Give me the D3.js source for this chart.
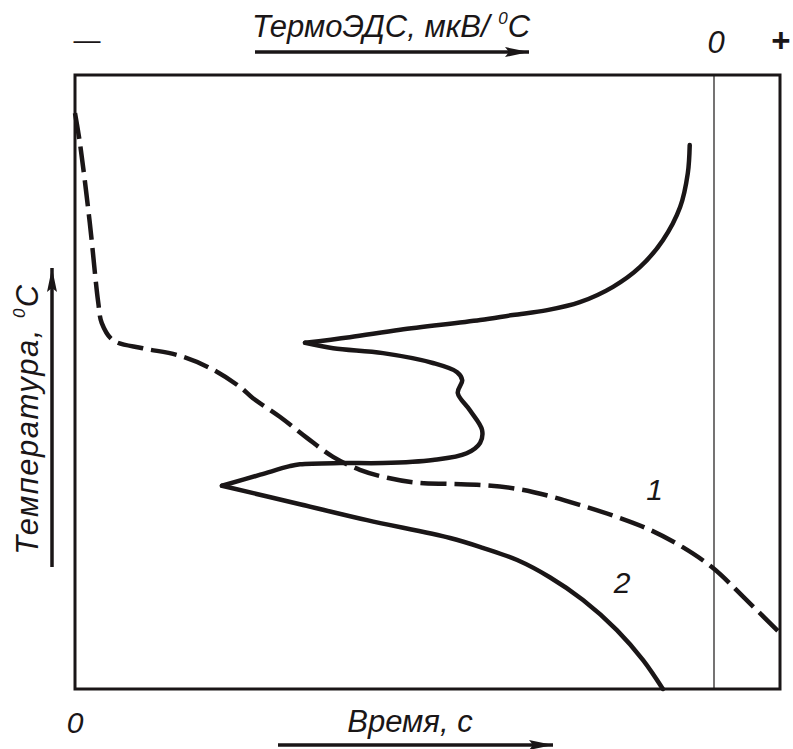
<!DOCTYPE html>
<html><head><meta charset="utf-8">
<script src="https://cdn.jsdelivr.net/npm/d3@7"></script>
<style>body{margin:0;background:#fff}text{font-family:"Liberation Sans",Arial,sans-serif;font-style:italic;fill:#1a1617}</style>
</head><body>
<svg id="c" width="793" height="749"></svg>
<script>
// Curve 1: cooling curve (time %, temperature %)
const curve1Time = [0,0.7,2.1,3.3,3.8,5.4,9.6,14.5,19.1,23.4,25.2,29.1,32.9,36.6,40.4,44.3,48.5,53.2,57.9,62.7,67.4,72.1,76.9,81.6,86.2,90.5,94.8,100];
const curve1Temp = [93.8,88.9,75.9,62.9,59.6,56.8,55.5,54.4,52.3,49.2,47.4,44.3,40.9,37.8,35.7,34.4,33.6,33.4,33.2,32.6,31.4,29.8,28.0,25.9,23.1,19.7,15.0,9.1];
// Curve 2: thermoEMF (relative units, 0 = zero line) vs temperature %
const curve2Emf = [-3.8,-4.1,-5.3,-8.0,-11.6,-15.8,-21.0,-26.1,-31.5,-36.6,-49.1,-57.0,-64.0,
  -59.6,-51.8,-44.0,-40.2,-39.4,-40.1,-38.2,-36.3,-36.6,-38.7,-44.0,-51.8,-58.5,-64.8,-66.4,-71.0,-77.0,
  -64.8,-54.3,-41.3,-36.2,-30.8,-25.7,-20.5,-15.2,-11.1,-8.0];
const curve2Temp = [88.6,84.0,78.5,73.1,68.7,65.5,63.0,61.7,60.9,60.1,58.5,57.3,56.4,
  55.5,54.7,53.1,51.6,50.3,48.2,45.4,42.2,40.1,38.4,37.3,36.8,36.8,36.6,36.3,34.9,33.1,
  30.1,27.5,24.6,23.0,21.0,18.2,14.5,9.6,4.7,0];
const curve2Breaks = [12, 29]; // indices of the sharp tips
const curveLabels = [{name:"1", time:82.2, temp:30.8}, {name:"2", time:77.6, temp:15.6}];

const svg = d3.select("#c");
const L = 75, R = 780, T = 75, B = 689;
const x = d3.scaleLinear().domain([0,100]).range([L,R]);        // time
const xe = d3.scaleLinear().domain([-100,0]).range([L,714]);     // thermoEMF
const y = d3.scaleLinear().domain([0,100]).range([B,T]);         // temperature

svg.append("defs").append("marker").attr("id","ah").attr("viewBox","0 0 24 10")
  .attr("refX",24).attr("refY",5).attr("markerWidth",24).attr("markerHeight",10)
  .attr("markerUnits","userSpaceOnUse").attr("orient","auto")
  .append("path").attr("d","M0,0 L24,5 L0,10 L4,5 Z").attr("fill","#1a1617");

// frame
svg.append("rect").attr("x",L).attr("y",T).attr("width",R-L).attr("height",B-T)
  .attr("fill","none").attr("stroke","#1a1617").attr("stroke-width",3);
// zero line of thermoEMF
svg.append("line").attr("x1",xe(0)).attr("x2",xe(0)).attr("y1",T).attr("y2",B)
  .attr("stroke","#1a1617").attr("stroke-width",1.2);

const line1 = d3.line().x((d,i)=>x(curve1Time[i])).y((d,i)=>y(curve1Temp[i])).curve(d3.curveCatmullRom.alpha(0.5));
svg.append("path").attr("d", line1(curve1Time)).attr("fill","none").attr("stroke","#1a1617")
  .attr("stroke-width",4.5).attr("stroke-dasharray","26,8");

const idx = d3.range(curve2Emf.length);
const segs = [idx.slice(0,curve2Breaks[0]+1), idx.slice(curve2Breaks[0],curve2Breaks[1]+1), idx.slice(curve2Breaks[1])];
const line2 = d3.line().x(i=>xe(curve2Emf[i])).y(i=>y(curve2Temp[i])).curve(d3.curveCatmullRom.alpha(0.5));
segs.forEach(s=>svg.append("path").attr("d", line2(s)).attr("fill","none").attr("stroke","#1a1617")
  .attr("stroke-width",4.5).attr("stroke-linecap","round").attr("stroke-linejoin","round"));

curveLabels.forEach(c=>svg.append("text").attr("x",x(c.time)).attr("y",y(c.temp)).attr("text-anchor","middle")
  .attr("font-size",30).text(c.name));

// top labels
const t1 = svg.append("text").attr("x",391).attr("y",37).attr("text-anchor","middle").attr("font-size",31);
t1.append("tspan").text("ТермоЭДС, мкВ/ ");
t1.append("tspan").attr("font-size",17).attr("dy",-13).text("0");
t1.append("tspan").attr("dy",13).text("C");
svg.append("line").attr("x1",255).attr("x2",529).attr("y1",52).attr("y2",52).attr("stroke","#1a1617").attr("stroke-width",3.5).attr("marker-end","url(#ah)");
svg.append("text").attr("x",87).attr("y",49).attr("text-anchor","middle").attr("font-size",27).style("font-style","normal").text("—");
svg.append("text").attr("x",xe(0)+2).attr("y",53).attr("text-anchor","middle").attr("font-size",31).text("0");
svg.append("text").attr("x",781).attr("y",52).attr("text-anchor","middle").attr("font-size",33).attr("font-weight","bold").style("font-style","normal").text("+");

// bottom labels
svg.append("text").attr("x",x(0)).attr("y",733).attr("text-anchor","middle").attr("font-size",30).text("0");
svg.append("text").attr("x",410).attr("y",732).attr("text-anchor","middle").attr("font-size",31).text("Время, с");
svg.append("line").attr("x1",278).attr("x2",553).attr("y1",745).attr("y2",745).attr("stroke","#1a1617").attr("stroke-width",3.5).attr("marker-end","url(#ah)");

// left label
const lt = svg.append("text").attr("transform","translate(38,419) rotate(-90)").attr("text-anchor","middle").attr("font-size",31).attr("letter-spacing",1.5);
lt.append("tspan").text("Температура, ");
lt.append("tspan").attr("font-size",17).attr("dy",-13).text("0");
lt.append("tspan").attr("dy",13).text("C");
svg.append("line").attr("x1",52).attr("x2",52).attr("y1",567).attr("y2",268).attr("stroke","#1a1617").attr("stroke-width",3.5).attr("marker-end","url(#ah)");
</script>
</body></html>
